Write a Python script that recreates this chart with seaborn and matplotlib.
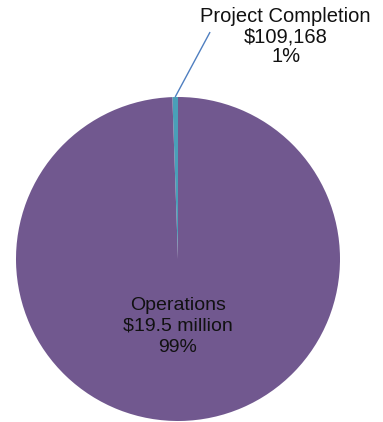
import matplotlib
matplotlib.use("Agg")
import matplotlib.pyplot as plt
import seaborn as sns
import numpy as np

# Budget split between the two spending categories
categories = ["Project Completion", "Operations"]
amounts = [109168, 19500000]
amount_labels = ["$109,168", "$19.5 million"]
percent_labels = ["1%", "99%"]

sns.set_theme(style="white")
plt.rcParams["font.family"] = ["Liberation Sans", "DejaVu Sans"]

colors = ["#4A9FB8", "#71588F"]

W, H = 383, 422
fig = plt.figure(figsize=(W / 100, H / 100), dpi=100)
fig.patch.set_facecolor("white")

# pie centre (178, 259) px, radius 162 px
cx, cy, r = 178, 259, 162
ax = fig.add_axes([(cx - r) / W, (H - cy - r) / H, 2 * r / W, 2 * r / H])

wedges, _ = ax.pie(amounts, colors=colors, startangle=90, counterclock=True,
                   radius=1.0, wedgeprops=dict(linewidth=0))
ax.set_xlim(-1, 1)
ax.set_ylim(-1, 1)
ax.set_aspect("equal")
ax.axis("off")

# label for the small slice, with leader line to its midpoint
w0 = wedges[0]
mid = np.deg2rad((w0.theta1 + w0.theta2) / 2)
ax.plot([np.cos(mid), 0.198], [np.sin(mid), 1.401], color="#4F7FC0",
        lw=1.0, clip_on=False, solid_capstyle="butt")
ax.text(0.665, 1.372, f"{categories[0]}\n{amount_labels[0]}\n{percent_labels[0]}",
        ha="center", va="center", fontsize=14.5, linespacing=1.07,
        color="#111111", clip_on=False)

ax.text(0.0, -0.415, f"{categories[1]}\n{amount_labels[1]}\n{percent_labels[1]}",
        ha="center", va="center", fontsize=14, linespacing=1.32,
        color="#111111")

fig.savefig("out.png", dpi=100, facecolor="white")
